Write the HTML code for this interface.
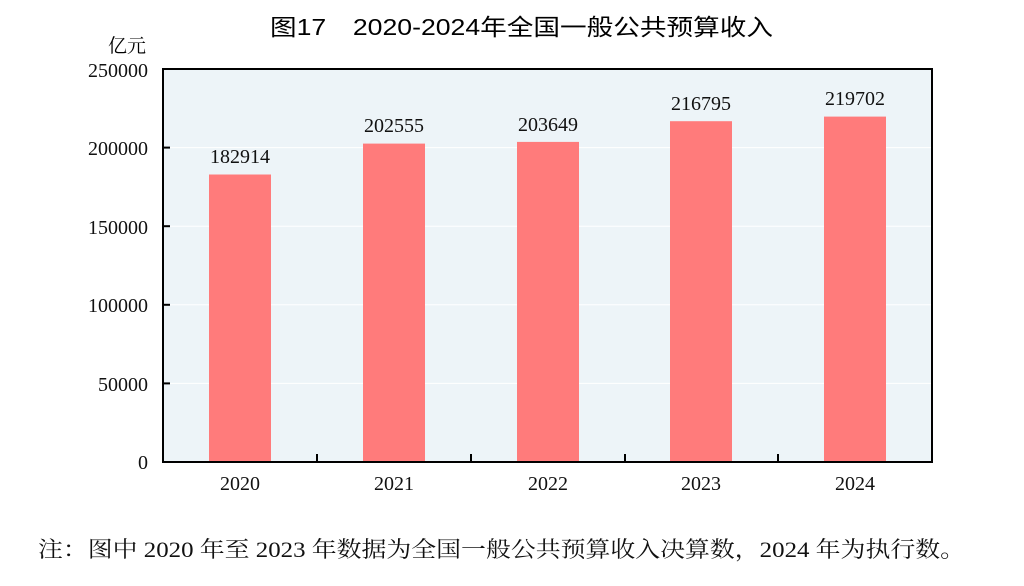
<!DOCTYPE html>
<html><head><meta charset="utf-8"><style>
body{margin:0;background:#fff;}
svg text{font-family:"Liberation Serif","Noto Serif CJK SC",serif;}
</style></head><body>
<svg width="1024" height="581" xmlns="http://www.w3.org/2000/svg">
<text x="270" y="35" font-size="23" textLength="503" lengthAdjust="spacingAndGlyphs" style="font-family:'Liberation Sans','Noto Sans CJK SC',sans-serif">图17　2020-2024年全国一般公共预算收入</text>
<text x="146" y="52" text-anchor="end" font-size="19" style="font-family:'Noto Serif CJK SC',serif">亿元</text>
<rect x="163" y="69" width="769" height="393" fill="#edf4f8"/>
<g stroke="#ffffff" stroke-width="1">
<line x1="163" x2="932" y1="147.6" y2="147.6"/><line x1="163" x2="932" y1="226.2" y2="226.2"/>
<line x1="163" x2="932" y1="304.8" y2="304.8"/><line x1="163" x2="932" y1="383.4" y2="383.4"/>
</g>
<g fill="#ff7b7b">
<rect x="209" y="174.5" width="62" height="287.5"/>
<rect x="363" y="143.6" width="62" height="318.4"/>
<rect x="517" y="141.9" width="62" height="320.1"/>
<rect x="670" y="121.2" width="62" height="340.8"/>
<rect x="824" y="116.6" width="62" height="345.4"/>
</g>
<rect x="163" y="69" width="769" height="393" fill="none" stroke="#000" stroke-width="2"/>
<g stroke="#000" stroke-width="2">
<line x1="163" x2="170" y1="147.6" y2="147.6"/><line x1="163" x2="170" y1="226.2" y2="226.2"/>
<line x1="163" x2="170" y1="304.8" y2="304.8"/><line x1="163" x2="170" y1="383.4" y2="383.4"/>
<line x1="317" x2="317" y1="462" y2="454"/><line x1="471" x2="471" y1="462" y2="454"/>
<line x1="625" x2="625" y1="462" y2="454"/><line x1="778" x2="778" y1="462" y2="454"/>
</g>
<g font-size="20" text-anchor="end" fill="#111">
<text x="148" y="77">250000</text><text x="148" y="155">200000</text><text x="148" y="234">150000</text>
<text x="148" y="312">100000</text><text x="148" y="391">50000</text><text x="148" y="469">0</text>
</g>
<g font-size="20" text-anchor="middle" fill="#111">
<text x="240" y="490">2020</text><text x="394" y="490">2021</text><text x="548" y="490">2022</text><text x="701" y="490">2023</text><text x="855" y="490">2024</text>
<text x="240" y="163">182914</text><text x="394" y="132">202555</text><text x="548" y="131">203649</text><text x="701" y="110">216795</text><text x="855" y="105">219702</text>
</g>
<text x="38" y="557" font-size="22" fill="#111" textLength="927" lengthAdjust="spacingAndGlyphs">注：图中 2020 年至 2023 年数据为全国一般公共预算收入决算数，2024 年为执行数。</text>
</svg>
</body></html>
